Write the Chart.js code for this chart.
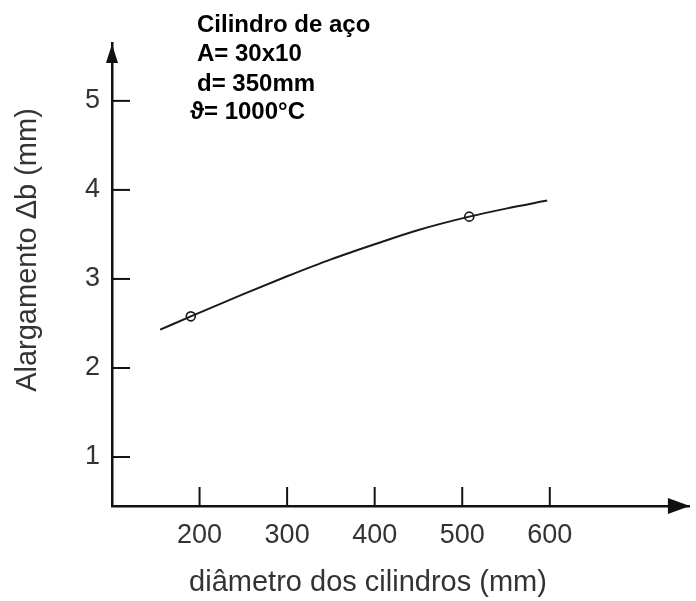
<!DOCTYPE html>
<html>
<head>
<meta charset="utf-8">
<script src="https://cdn.jsdelivr.net/npm/chart.js@4.4.1/dist/chart.umd.min.js"></script>
<style>
  html, body { margin: 0; padding: 0; background: #fff; }
  #wrap { width: 696px; height: 601px; }
</style>
</head>
<body>
<div id="wrap"><canvas id="chart"></canvas></div>
<script>
// curve of widening vs roll diameter
const diameters = [155, 190, 250, 300, 350, 400, 450, 508, 550, 597];
const widening = [2.43, 2.58, 2.83, 3.03, 3.22, 3.39, 3.55, 3.70, 3.79, 3.88];
// measured points (open circles)
const measuredD = [190, 508];
const measuredB = [2.58, 3.70];

const xTicks = [200, 300, 400, 500, 600];
const yTicks = [1, 2, 3, 4, 5];
const notes = ["Cilindro de aço", "A= 30x10", "d= 350mm", "ϑ= 1000°C"];
const xTitle = "diâmetro dos cilindros (mm)";
const yTitle = "Alargamento Δb (mm)";

const ink = "#111";
const labelInk = "#333";
const family = "'Liberation Sans', Arial, sans-serif";

// inward tick marks, axis arrows, titles and the note block
const decorations = {
  id: "decorations",
  afterDatasetsDraw(chart) {
    const ctx = chart.ctx;
    const x = chart.scales.x, y = chart.scales.y;
    const area = chart.chartArea;
    ctx.save();
    ctx.strokeStyle = ink;
    ctx.fillStyle = ink;
    ctx.lineWidth = 2;
    xTicks.forEach(function (v) {
      const px = x.getPixelForValue(v);
      ctx.beginPath();
      ctx.moveTo(px, area.bottom);
      ctx.lineTo(px, area.bottom - 19);
      ctx.stroke();
    });
    yTicks.forEach(function (v) {
      const py = y.getPixelForValue(v);
      ctx.beginPath();
      ctx.moveTo(area.left, py);
      ctx.lineTo(area.left + 18, py);
      ctx.stroke();
    });

    // arrow heads
    ctx.beginPath();
    ctx.moveTo(area.left, area.top + 1);
    ctx.lineTo(area.left - 6, area.top + 20);
    ctx.lineTo(area.left + 6, area.top + 20);
    ctx.closePath();
    ctx.fill();
    ctx.beginPath();
    ctx.moveTo(area.right, area.bottom);
    ctx.lineTo(area.right - 22, area.bottom - 8);
    ctx.lineTo(area.right - 22, area.bottom + 8);
    ctx.closePath();
    ctx.fill();

    // axis titles
    ctx.fillStyle = labelInk;
    ctx.font = "29px " + family;
    ctx.textAlign = "center";
    ctx.textBaseline = "middle";
    ctx.fillText(xTitle, 368, 583);
    ctx.save();
    ctx.translate(28, 250);
    ctx.rotate(-Math.PI / 2);
    ctx.fillText(yTitle, 0, 0);
    ctx.restore();

    // note block
    ctx.fillStyle = "#000";
    ctx.font = "bold 24px " + family;
    ctx.textAlign = "left";
    const rows = [25, 54, 84, 112];
    notes.forEach(function (t, i) {
      ctx.fillText(t, i === 3 ? 190 : 197, rows[i]);
    });
    ctx.restore();
  }
};

const ctx = document.getElementById("chart").getContext("2d");
new Chart(ctx, {
  type: "scatter",
  data: {
    datasets: [
      {
        data: diameters.map((d, i) => ({ x: d, y: widening[i] })),
        showLine: true,
        borderColor: "#1a1a1a",
        borderWidth: 2,
        pointRadius: 0,
        cubicInterpolationMode: "monotone",
      },
      {
        data: measuredD.map((d, i) => ({ x: d, y: measuredB[i] })),
        showLine: false,
        pointRadius: 4.5,
        pointBackgroundColor: "#fff",
        pointBorderColor: "#1a1a1a",
        pointBorderWidth: 1.6,
      },
    ],
  },
  options: {
    responsive: true,
    maintainAspectRatio: false,
    animation: false,
    layout: { padding: { top: 43, right: 0, left: 0, bottom: 0 } },
    plugins: { legend: { display: false }, tooltip: { enabled: false } },
    scales: {
      x: {
        type: "linear",
        min: 100,
        max: 760,
        afterBuildTicks: function (scale) {
          scale.ticks = xTicks.map((v) => ({ value: v }));
        },
        afterFit: function (scale) { scale.height = 95; },
        grid: { display: false, drawTicks: false, tickLength: 0 },
        border: { display: true, color: ink, width: 2.5 },
        ticks: {
          padding: 13,
          maxRotation: 0,
          color: labelInk,
          font: { family: family, size: 27 },
        },
      },
      y: {
        min: 0.45,
        max: 5.65,
        afterBuildTicks: function (scale) {
          scale.ticks = yTicks.map((v) => ({ value: v }));
        },
        afterFit: function (scale) { scale.width = 112; },
        grid: { display: false, drawTicks: false, tickLength: 0 },
        border: { display: true, color: ink, width: 2.5 },
        ticks: {
          padding: 12,
          color: labelInk,
          font: { family: family, size: 27 },
        },
      },
    },
  },
  plugins: [decorations],
});
</script>
</body>
</html>
